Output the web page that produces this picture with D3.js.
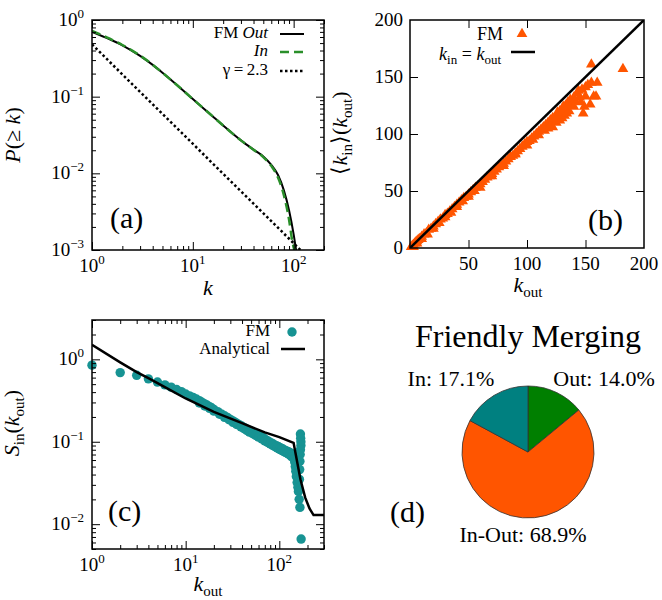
<!DOCTYPE html>
<html>
<head>
<meta charset="utf-8">
<script src="https://cdn.jsdelivr.net/npm/d3@7"></script>
</head>
<body style="margin:0">
<svg id="chart" width="662" height="600"></svg>
<script>
// ---- (a) cumulative degree distribution ----
const outCurve = [[1,0.70],[1.5,0.56],[2,0.468],[3,0.341],[4,0.26],[5,0.205],[7,0.141],[10,0.093],[15,0.0586],
  [20,0.042],[30,0.0269],[40,0.0204],[50,0.0166],[60,0.0129],[70,0.0095],[80,0.006],[90,0.0033],[100,0.0016],[106,0.00098]];
const inCurve = [[1,0.72],[1.5,0.57],[2,0.472],[3,0.343],[4,0.261],[5,0.205],[7,0.141],[10,0.093],[15,0.0586],
  [20,0.042],[30,0.0269],[40,0.0203],[50,0.0163],[60,0.0125],[70,0.0088],[80,0.0052],[90,0.0025],[97,0.0013],[102,0.00098]];
const gammaLine = [[1,0.48],[117,0.001]];

// ---- (b) <k_in>(k_out) ----
const fmB = [[1,1],[2,2],[3,3],[4,4],[5,5],[6,6],[7,7],[8,8],[9,8],[10,10],[12,12],[14,13],[16,16],[18,17],[20,19],
  [22,21],[24,23],[26,25],[28,26],[30,29],[32,30],[34,32],[36,34],[38,36],[40,38],[42,40],[44,42],[46,44],[48,45],
  [50,47],[52,49],[54,51],[56,53],[58,54],[60,56],[62,58],[64,60],[66,62],[68,63],[70,65],[72,67],[74,69],[76,71],
  [78,72],[80,74],[82,76],[84,78],[86,80],[88,81],[90,83],[92,85],[94,87],[96,89],[98,91],[100,93],[102,94],[104,96],
  [106,98],[108,100],[110,102],[112,104],[114,106],[116,108],[118,110],[120,112],[3,1],[6,4],[10,8],[15,12],[20,17],
  [25,22],[30,27],[35,31],[40,36],[45,41],[50,45],[55,50],[60,53],[70,63],[80,72],[90,82],
  [100,90],[105,95],[110,99],[115,103],[118,105],[120,107],[122,106],[125,110],[128,112],[130,114],[132,116],[126,116],
  [124,114],[128,120],[130,122],[133,125],[135,128],[137,130],[138,126],[140,132],[141,129],[143,136],[145,132],
  [147,139],[149,124],[148,118],[152,143],[155,145],[150,141],[157,133],[160,145],[159,133],[154,126],[155,161],
  [182,157],[144,138],[146,128],[150,133],[136,120],[134,118],[140,124],[122,114],[126,119],[131,124]];
const diagLine = [[0,0],[200,200]];

// ---- (c) S_in(k_out) ----
const fmC = [[1,0.85],[2,0.69],[3,0.64],[4,0.58],[5,0.53],[6,0.49],[7,0.46],[8,0.43],[9,0.405],[10,0.38],[11,0.36],
  [12,0.345],[13,0.33],[14,0.315],[15,0.3],[16,0.288],[17,0.277],[18,0.267],[19,0.257],[20,0.247],[22,0.232],
  [24,0.218],[26,0.207],[28,0.197],[30,0.187],[32,0.179],[34,0.172],[36,0.165],[38,0.159],[40,0.154],[43,0.147],
  [46,0.141],[49,0.136],[52,0.131],[55,0.127],[58,0.123],[61,0.119],[64,0.115],[67,0.112],[70,0.108],[74,0.104],
  [78,0.1],[82,0.097],[86,0.094],[90,0.091],[94,0.089],[98,0.087],[102,0.085],[106,0.083],[110,0.081],[114,0.079],
  [118,0.078],[122,0.076],[126,0.075],[130,0.074],[134,0.072],[138,0.07],[141,0.067],
  [14,0.295],[16,0.272],[18,0.254],[20,0.235],[23,0.216],[26,0.198],[29,0.185],[32,0.172],[35,0.162],[39,0.151],
  [42,0.144],[45,0.137],[48,0.131],[52,0.125],[56,0.119],[60,0.114],[65,0.108],[70,0.102],[75,0.098],[80,0.094],
  [85,0.09],[90,0.087],[95,0.084],[100,0.081],[105,0.079],[110,0.077],[115,0.075],[120,0.073],[125,0.071],
  [130,0.069],[135,0.066],[144,0.062],[146,0.057],[148,0.05],[150,0.044],[152,0.038],[155,0.032],[158,0.028],
  [160,0.025],[163,0.02],[166,0.016],[171,0.0066],[168,0.124],[169,0.11],[170,0.1],[170,0.09],[168,0.08],
  [167,0.07],[166,0.058],[165,0.046],[164,0.035]];
const analytical = [[1,1.5],[2,0.92],[3,0.7],[4,0.59],[6,0.46],[10,0.335],[20,0.23],[40,0.168],[70,0.13],
  [100,0.114],[142,0.097],[168,0.035],[189,0.021],[210,0.0155],[232,0.0129],[300,0.0129]];

// ---- (d) pie ----
const pieLabels = ["Out: 14.0%", "In-Out: 68.9%", "In: 17.1%"];
const pieValues = [14.0, 68.9, 17.1];
const pieColors = ["#007f00", "#ff5500", "#008080"];

const FONT = "Liberation Serif";
const svg = d3.select("#chart");

// every label goes through here so it gets the serif face
function label(parent, x, y, size) {
  return parent.append("text").attr("x", x).attr("y", y).attr("font-size", size)
    .attr("font-family", FONT).style("font-family", FONT, "important").attr("fill", "#000");
}

function sup10(sel, v) {
  const e = Math.round(Math.log10(v));
  sel.append("tspan").text("10");
  sel.append("tspan").attr("dy", -8).attr("font-size", 13).text(e < 0 ? "\u2212" + (-e) : e);
}

function axes(g, x, y, xMaj, xMin, yMaj, yMin) {
  const [xl, xr] = x.range(), [yb, yt] = y.range();
  const sides = [
    [d3.axisBottom(x), `translate(0,${yb})`, xMaj, xMin],
    [d3.axisTop(x), `translate(0,${yt})`, xMaj, xMin],
    [d3.axisLeft(y), `translate(${xl},0)`, yMaj, yMin],
    [d3.axisRight(y), `translate(${xr},0)`, yMaj, yMin]
  ];
  sides.forEach(([a, t, maj, min]) => {
    [[maj, 8], [min, 4]].forEach(([vals, len]) => {
      if (!vals.length) return;
      g.append("g").attr("transform", t)
        .call(a.tickValues(vals).tickSize(-len).tickFormat(""))
        .call(s => s.select(".domain").remove())
        .call(s => s.selectAll("text").remove())
        .call(s => s.selectAll("line").attr("stroke-width", 1));
    });
  });
  g.append("rect").attr("x", xl).attr("y", yt).attr("width", xr - xl).attr("height", yb - yt)
    .attr("fill", "none").attr("stroke", "#000").attr("stroke-width", 1.5);
}

function logSplit(scale) {
  const t = scale.ticks();
  const isMaj = v => Math.abs(Math.log10(v) - Math.round(Math.log10(v))) < 1e-9;
  return [t.filter(isMaj), t.filter(v => !isMaj(v))];
}

function clip(id, x, y) {
  const [xl, xr] = x.range(), [yb, yt] = y.range();
  svg.append("clipPath").attr("id", id).append("rect")
    .attr("x", xl).attr("y", yt).attr("width", xr - xl).attr("height", yb - yt);
}

// ================= (a) =================
const xA = d3.scaleLog().domain([1, 200]).range([92, 324]);
const yA = d3.scaleLog().domain([1e-3, 1]).range([250, 20]);
clip("clipA", xA, yA);
const gA = svg.append("g");
const lineA = d3.line().x(d => xA(d[0])).y(d => yA(d[1])).curve(d3.curveMonotoneX);
const pA = gA.append("g").attr("clip-path", "url(#clipA)");
pA.append("path").attr("d", lineA(gammaLine)).attr("fill", "none").attr("stroke", "#000")
  .attr("stroke-width", 2.5).attr("stroke-dasharray", "2.5,2.5");
pA.append("path").attr("d", lineA(outCurve)).attr("fill", "none").attr("stroke", "#000").attr("stroke-width", 2);
pA.append("path").attr("d", lineA(inCurve)).attr("fill", "none").attr("stroke", "#2a8f2a")
  .attr("stroke-width", 2.5).attr("stroke-dasharray", "9,5");
const [xAM, xAm] = logSplit(xA), [yAM, yAm] = logSplit(yA);
axes(gA, xA, yA, xAM, xAm, yAM, yAm);
xAM.forEach(v => label(gA, xA(v), 272, 19).attr("text-anchor", "middle").call(sup10, v));
yAM.forEach(v => label(gA, 84, yA(v) + 6, 19).attr("text-anchor", "end").call(sup10, v));
label(gA, 208, 295, 22).attr("text-anchor", "middle").attr("font-style", "italic").text("k");
const tA = label(gA, 0, 0, 22).attr("transform", "translate(20,135) rotate(-90)").attr("text-anchor", "middle");
tA.append("tspan").attr("font-style", "italic").text("P");
tA.append("tspan").text("(\u2265 ");
tA.append("tspan").attr("font-style", "italic").text("k");
tA.append("tspan").text(")");
// legend (a)
const legA = [
  { y: 38, kind: "out" }, { y: 56, kind: "in" }, { y: 75, kind: "gamma" }
];
legA.forEach(r => {
  const t = label(gA, 268, r.y, 17).attr("text-anchor", "end");
  const l = gA.append("line").attr("x1", 280).attr("x2", 304).attr("y1", r.y - 4).attr("y2", r.y - 4);
  if (r.kind === "out") {
    t.append("tspan").text("FM ");
    t.append("tspan").attr("font-style", "italic").text("Out");
    l.attr("stroke", "#000").attr("stroke-width", 2);
  } else if (r.kind === "in") {
    t.append("tspan").attr("font-style", "italic").text("In");
    l.attr("stroke", "#2a8f2a").attr("stroke-width", 2.5).attr("stroke-dasharray", "9,5");
  } else {
    t.text("\u03b3\u2009=\u20092.3");
    l.attr("stroke", "#000").attr("stroke-width", 2.5).attr("stroke-dasharray", "2.5,2.5");
  }
});
label(gA, 110, 228, 30).text("(a)");

// ================= (b) =================
const xB = d3.scaleLinear().domain([0, 200]).range([410, 644]);
const yB = d3.scaleLinear().domain([0, 200]).range([248, 20]);
clip("clipB", xB, yB);
const gB = svg.append("g");
const tri = d3.symbol().type(d3.symbolTriangle).size(50);
const pB = gB.append("g");
pB.selectAll("path.tri").data(fmB).join("path").attr("class", "tri")
  .attr("transform", d => `translate(${xB(d[0])},${yB(d[1])})`).attr("d", tri).attr("fill", "#ff5500");
pB.append("path").attr("clip-path", "url(#clipB)")
  .attr("d", d3.line().x(d => xB(d[0])).y(d => yB(d[1]))(diagLine))
  .attr("fill", "none").attr("stroke", "#000").attr("stroke-width", 2.5);
axes(gB, xB, yB, [50, 100, 150], [], [50, 100, 150], []);
[50, 100, 150, 200].forEach(v => label(gB, xB(v), 270, 19).attr("text-anchor", "middle").text(v));
[0, 50, 100, 150, 200].forEach(v => label(gB, 403, yB(v) + 6, 19).attr("text-anchor", "end").text(v));
const xlB = label(gB, 528, 292, 22).attr("text-anchor", "middle");
xlB.append("tspan").attr("font-style", "italic").text("k");
xlB.append("tspan").attr("dy", 5).attr("font-size", 15).text("out");
const ylB = label(gB, 0, 0, 22).attr("transform", "translate(347,133) rotate(-90)").attr("text-anchor", "middle");
ylB.append("tspan").text("\u27e8");
ylB.append("tspan").attr("font-style", "italic").text("k");
ylB.append("tspan").attr("dy", 5).attr("font-size", 15).text("in");
ylB.append("tspan").attr("dy", -5).text("\u27e9(");
ylB.append("tspan").attr("font-style", "italic").text("k");
ylB.append("tspan").attr("dy", 5).attr("font-size", 15).text("out");
ylB.append("tspan").attr("dy", -5).text(")");
// legend (b)
label(gB, 503, 40, 18).attr("text-anchor", "end").text("FM");
gB.append("path").attr("transform", "translate(522,34)").attr("d", tri).attr("fill", "#ff5500");
const lb = label(gB, 501, 60, 18).attr("text-anchor", "end");
lb.append("tspan").attr("font-style", "italic").text("k");
lb.append("tspan").attr("dy", 4).attr("font-size", 13).text("in");
lb.append("tspan").attr("dy", -4).text(" = ");
lb.append("tspan").attr("font-style", "italic").text("k");
lb.append("tspan").attr("dy", 4).attr("font-size", 13).text("out");
gB.append("line").attr("x1", 511).attr("x2", 535).attr("y1", 52).attr("y2", 52)
  .attr("stroke", "#000").attr("stroke-width", 2.5);
label(gB, 588, 230, 30).text("(b)");

// ================= (c) =================
const xC = d3.scaleLog().domain([1, 300]).range([92, 324]);
const yC = d3.scaleLog().domain([0.005, 3]).range([549, 320]);
clip("clipC", xC, yC);
const gC = svg.append("g");
gC.append("g").selectAll("circle").data(fmC).join("circle")
  .attr("cx", d => xC(d[0])).attr("cy", d => yC(d[1])).attr("r", 4.7).attr("fill", "#179393");
gC.append("path").attr("clip-path", "url(#clipC)")
  .attr("d", d3.line().x(d => xC(d[0])).y(d => yC(d[1]))(analytical))
  .attr("fill", "none").attr("stroke", "#000").attr("stroke-width", 2.5);
const [xCM, xCm] = logSplit(xC), [yCM, yCm] = logSplit(yC);
axes(gC, xC, yC, xCM, xCm, yCM, yCm);
xCM.forEach(v => label(gC, xC(v), 571, 19).attr("text-anchor", "middle").call(sup10, v));
yCM.forEach(v => label(gC, 84, yC(v) + 6, 19).attr("text-anchor", "end").call(sup10, v));
const xlC = label(gC, 208, 591, 22).attr("text-anchor", "middle");
xlC.append("tspan").attr("font-style", "italic").text("k");
xlC.append("tspan").attr("dy", 5).attr("font-size", 15).text("out");
const ylC = label(gC, 0, 0, 22).attr("transform", "translate(19,423) rotate(-90)").attr("text-anchor", "middle");
ylC.append("tspan").attr("font-style", "italic").text("S");
ylC.append("tspan").attr("dy", 5).attr("font-size", 15).text("in");
ylC.append("tspan").attr("dy", -5).text("(");
ylC.append("tspan").attr("font-style", "italic").text("k");
ylC.append("tspan").attr("dy", 5).attr("font-size", 15).text("out");
ylC.append("tspan").attr("dy", -5).text(")");
// legend (c)
label(gC, 270, 336, 17).attr("text-anchor", "end").text("FM");
gC.append("circle").attr("cx", 292).attr("cy", 332).attr("r", 4.7).attr("fill", "#179393");
label(gC, 270, 354, 17).attr("text-anchor", "end").text("Analytical");
gC.append("line").attr("x1", 281).attr("x2", 305).attr("y1", 349).attr("y2", 349)
  .attr("stroke", "#000").attr("stroke-width", 2.5);
label(gC, 108, 521, 30).text("(c)");

// ================= (d) =================
const gD = svg.append("g");
label(gD, 528, 347, 32).attr("text-anchor", "middle").text("Friendly Merging");
const arcs = d3.pie().sort(null)(pieValues);
const arc = d3.arc().innerRadius(0).outerRadius(66);
gD.append("g").attr("transform", "translate(528,452)")
  .selectAll("path").data(arcs).join("path")
  .attr("d", arc).attr("fill", (d, i) => pieColors[i]).attr("stroke", "#333").attr("stroke-width", 0.8);
const labelPos = [[604, 386], [523, 542], [451, 386]];
pieLabels.forEach((s, i) => label(gD, labelPos[i][0], labelPos[i][1], 22).attr("text-anchor", "middle").text(s));
label(gD, 390, 522, 30).text("(d)");
</script>
</body>
</html>
